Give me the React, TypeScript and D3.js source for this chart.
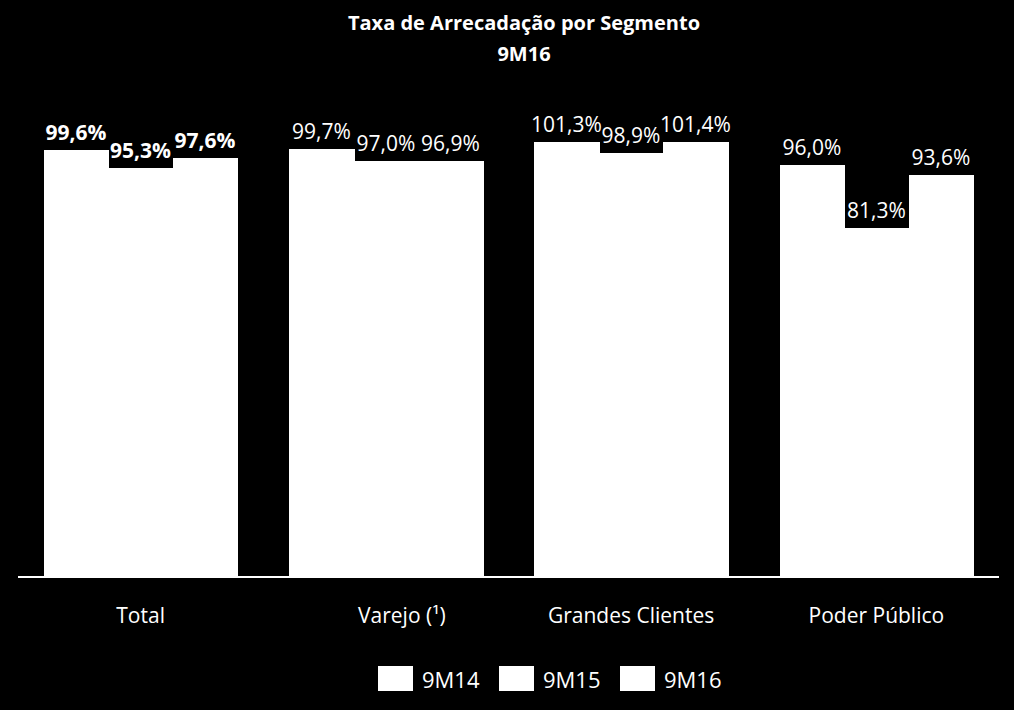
import React from "react";
import * as d3 from "d3";

const categories = ["Total", "Varejo (¹)", "Grandes Clientes", "Poder Público"];
const series = ["9M14", "9M15", "9M16"];
const values9M14 = [99.6, 99.7, 101.3, 96.0];
const values9M15 = [95.3, 97.0, 98.9, 81.3];
const values9M16 = [97.6, 96.9, 101.4, 93.6];
const boldCategory = "Total";

const W = 1014;
const H = 710;
const FONT = "'Open Sans', 'DejaVu Sans', sans-serif";

export default function App() {
  const x0 = d3
    .scaleBand<string>()
    .domain(categories)
    .range([18, 999])
    .paddingInner(0.21)
    .paddingOuter(0.105);
  const x1 = d3.scaleBand<string>().domain(series).range([0, x0.bandwidth()]);
  const y = d3.scaleLinear().domain([0, 100]).range([577, 148]);
  const allValues = [values9M14, values9M15, values9M16];
  const fmt = (v: number) => d3.format(".1f")(v).replace(".", ",") + "%";
  const labelDx: Record<string, number> = { "Varejo (¹)": 16 };

  return (
    <div style={{ position: "absolute", left: 0, top: 0, width: W, height: H, background: "#000" }}>
      <svg width={W} height={H} style={{ display: "block" }} fontFamily={FONT}>
        <rect x={0} y={0} width={W} height={H} fill="#000" />
        <text x={524} y={30} textAnchor="middle" fill="#fff" fontWeight="bold" fontSize={20}>
          Taxa de Arrecadação por Segmento
        </text>
        <text x={524} y={61} textAnchor="middle" fill="#fff" fontWeight="bold" fontSize={20}>
          9M16
        </text>
        {categories.map((c, ci) => {
          const gx = x0(c) as number;
          return (
            <g key={c}>
              {series.map((s, si) => {
                const v = allValues[si][ci];
                const bx = Math.round(gx + (x1(s) as number));
                const bx2 = Math.round(gx + (x1(s) as number) + x1.bandwidth());
                return (
                  <g key={s}>
                    <rect
                      x={bx}
                      y={Math.round(y(v))}
                      width={bx2 - bx + 1}
                      height={Math.round(y(0)) - Math.round(y(v))}
                      fill="#fff"
                      shapeRendering="crispEdges"
                    />
                    <text
                      x={(bx + bx2) / 2}
                      y={y(v) - 10}
                      textAnchor="middle"
                      fill="#fff"
                      fontSize={21}
                      fontWeight={c === boldCategory ? "bold" : "normal"}
                    >
                      {fmt(v)}
                    </text>
                  </g>
                );
              })}
            </g>
          );
        })}
        <line x1={18} x2={999} y1={y(0)} y2={y(0)} stroke="#fff" strokeWidth={2} />
        {categories.map((c) => (
          <text
            key={c}
            x={(x0(c) as number) + x0.bandwidth() / 2 + (labelDx[c] || 0)}
            y={623}
            textAnchor="middle"
            fill="#fff"
            fontSize={21}
          >
            {c}
          </text>
        ))}
        {series.map((s, i) => (
          <g key={s} transform={`translate(${378 + i * 121},666)`}>
            <rect x={0} y={0} width={35} height={25} fill="#fff" />
            <text x={44} y={22} fill="#fff" fontSize={22}>
              {s}
            </text>
          </g>
        ))}
      </svg>
    </div>
  );
}
